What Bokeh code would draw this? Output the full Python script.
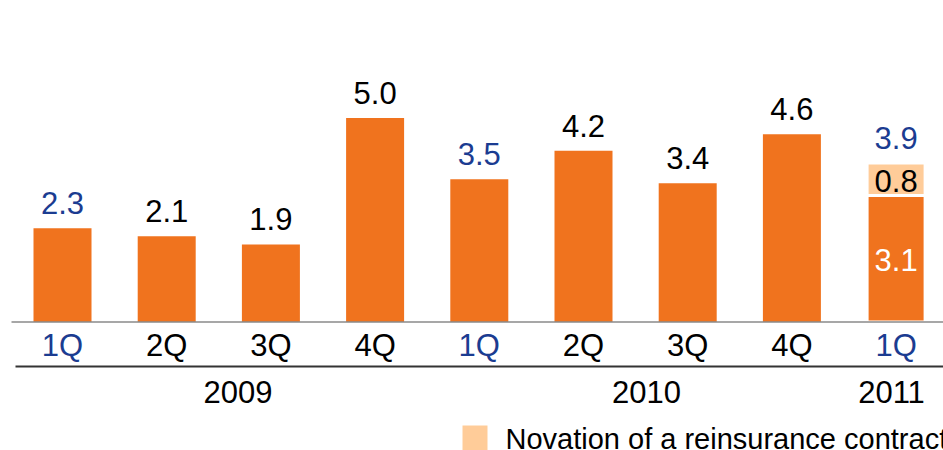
from bokeh.plotting import figure
from bokeh.models import ColumnDataSource, Range1d, Label, BoxAnnotation
from bokeh.core.properties import value
from bokeh.embed import file_html
from bokeh.resources import INLINE

# Quarterly figures, 1Q 2009 - 1Q 2011
quarters = ["1Q", "2Q", "3Q", "4Q", "1Q", "2Q", "3Q", "4Q", "1Q"]
years = ["2009", "2009", "2009", "2009", "2010", "2010", "2010", "2010", "2011"]
core = [2.3, 2.1, 1.9, 5.0, 3.5, 4.2, 3.4, 4.6, 3.1]
novation = [0.0, 0.0, 0.0, 0.0, 0.0, 0.0, 0.0, 0.0, 0.8]
year_labels = ["2009", "2010", "2011"]
legend_label = "Novation of a reinsurance contract"

ORANGE = "#F0731E"
PEACH = "#FFCC99"
BLUE = "#1B3C91"
FONT = "Liberation Sans"
FS = "31px"
LEGEND_FS = "29px"

W, H = 943, 450
STEP = 104.2        # pixels between bar centres
X0 = 62.0           # pixel centre of the first bar
BASE = 321.5        # pixel row of the zero line
PPU = 40.8          # pixels per unit of value

def px_x(px):
    return (px - X0) / STEP

def px_y(py):
    return (BASE - py) / PPU

n = len(core)
idx = list(range(n))
totals = [round(c + v, 1) for c, v in zip(core, novation)]
is_first_q = [q == "1Q" for q in quarters]
label_colors = [BLUE if f else "black" for f in is_first_q]
has_nov = [v > 0 for v in novation]

p = figure(width=W, height=H, output_backend="svg", toolbar_location=None,
           x_range=Range1d(px_x(0), px_x(W)), y_range=Range1d(px_y(H), px_y(0)),
           min_border=0, min_border_left=0, min_border_right=0,
           min_border_top=0, min_border_bottom=0)
p.axis.visible = False
p.grid.visible = False
p.outline_line_color = None
p.background_fill_color = "white"
p.border_fill_color = "white"

bar_w = 58 / STEP

src = ColumnDataSource(dict(
    x=idx, core=core, nov=novation, total=totals,
    line_alpha=[1.0 if h else 0.0 for h in has_nov],
))
p.vbar(x="x", top="core", bottom=0, width=bar_w, source=src,
       fill_color=ORANGE, line_color="white", line_width=3, line_alpha="line_alpha")
p.vbar(x="x", top="total", bottom="core", width=bar_w, source=src,
       fill_color=PEACH, line_color="white", line_width=3, line_alpha="line_alpha")

text_style = dict(text_font=value(FONT), text_font_size=FS,
                  text_align="center", text_baseline="middle")

# value labels above the bars
lab = ColumnDataSource(dict(x=idx, y=totals,
                            t=[f"{v:.1f}" for v in totals], c=label_colors))
p.text(x="x", y="y", text="t", text_color="c", source=lab,
       y_offset=-25, **text_style)

# split labels inside the stacked bar
sx = [i for i in idx if has_nov[i]]
inner = ColumnDataSource(dict(
    x=sx + sx,
    y=[core[i] / 2 for i in sx] + [core[i] + novation[i] / 2 for i in sx],
    t=[f"{core[i]:.1f}" for i in sx] + [f"{novation[i]:.1f}" for i in sx],
    c=["white"] * len(sx) + ["black"] * len(sx),
))
p.text(x="x", y="y", text="t", text_color="c", source=inner,
       y_offset=1.5, **text_style)

# zero line and category separator
p.segment(x0=[px_x(11)], y0=[0], x1=[px_x(W)], y1=[0],
          line_color="#8a8a8a", line_width=1.5)
p.segment(x0=[px_x(15)], y0=[px_y(366)], x1=[px_x(W)], y1=[px_y(366)],
          line_color="#333333", line_width=2)

# quarter labels
ql = ColumnDataSource(dict(x=idx, y=[0] * n, t=quarters, c=label_colors))
p.text(x="x", y="y", text="t", text_color="c", source=ql,
       y_offset=23, **text_style)

# year labels
year_pos = {"2009": px_x(237.5), "2010": px_x(646), "2011": px_x(891)}
yl = ColumnDataSource(dict(x=[year_pos[y] for y in year_labels],
                           y=[0] * len(year_labels), t=year_labels))
p.text(x="x", y="y", text="t", text_color="black", source=yl,
       y_offset=69.5, **text_style)

# legend swatch and label
p.add_layout(BoxAnnotation(left=462, right=487, bottom=0, top=25,
                           left_units="screen", right_units="screen",
                           bottom_units="screen", top_units="screen",
                           fill_color=PEACH, fill_alpha=1.0, line_color=None))
p.add_layout(Label(x=505, y=11.5, x_units="screen", y_units="screen",
                   text=legend_label, text_font=FONT, text_font_size=LEGEND_FS,
                   text_color="black", text_baseline="middle"))

open("out.html", "w").write(file_html(p, INLINE))
